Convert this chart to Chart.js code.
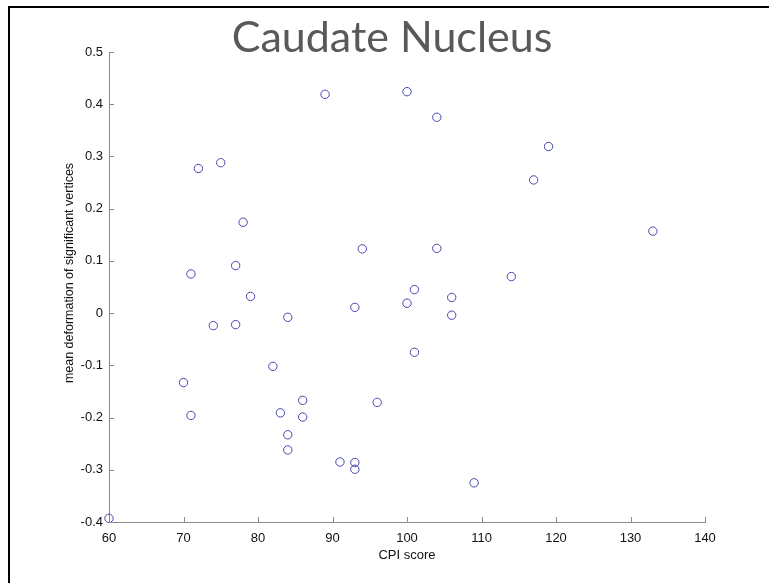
<!DOCTYPE html>
<html>
<head>
<meta charset="utf-8">
<title>Caudate Nucleus</title>
<script src="https://cdn.jsdelivr.net/npm/chart.js@4.4.1/dist/chart.umd.min.js"></script>
<style>
    html, body { margin: 0; padding: 0; background: #fff; }
    #chart { display: block; }
</style>
</head>
<body>
<canvas id="chart" width="769" height="583"></canvas>
<script>
// Data
const cpiScore = [60, 70, 71, 71, 72, 74, 75, 77, 77, 78, 79, 82, 83, 84, 84, 84, 86, 86, 89, 91,
    93, 93, 93, 94, 96, 100, 100, 101, 101, 104, 104, 106, 106, 109, 114, 117, 119, 133];
const meanDeformation = [-0.393, -0.133, -0.196, 0.075, 0.277, -0.024, 0.288, 0.091, -0.022, 0.174,
    0.032, -0.102, -0.191, -0.008, -0.233, -0.262, -0.167, -0.199, 0.419, -0.285,
    0.011, -0.286, -0.299, 0.123, -0.171, 0.424, 0.019, 0.045, -0.075, 0.375,
    0.124, 0.030, -0.004, -0.325, 0.070, 0.255, 0.319, 0.157];
const xTicks = [60, 70, 80, 90, 100, 110, 120, 130, 140];
const yTicks = [-0.4, -0.3, -0.2, -0.1, 0, 0.1, 0.2, 0.3, 0.4, 0.5];

const chartTitle = 'Caudate Nucleus';
const xTitle = 'CPI score';
const yTitle = 'mean deformation of significant vertices';

const axisColor = '#8a8a8a';
const tickFont = { family: '"Liberation Sans", Arial, sans-serif', size: 13 };

// Frame, inward tick marks, title and axis titles
const decorations = {
    id: 'decorations',
    beforeDraw(chart) {
        const ctx = chart.ctx;
        ctx.save();
        ctx.fillStyle = '#000';
        ctx.fillRect(8, 6, 2, chart.height - 6);
        ctx.fillRect(8, 6, chart.width - 8, 2);
        ctx.restore();
    },
    afterDraw(chart) {
        const ctx = chart.ctx;
        const area = chart.chartArea;
        const xs = chart.scales.x;
        const ys = chart.scales.y;
        ctx.save();

        // tick marks pointing into the plot
        ctx.strokeStyle = axisColor;
        ctx.lineWidth = 1;
        ctx.beginPath();
        xTicks.forEach(v => {
            const px = Math.round(xs.getPixelForValue(v)) + 0.5;
            ctx.moveTo(px, area.bottom);
            ctx.lineTo(px, area.bottom - 5);
        });
        yTicks.forEach(v => {
            const py = Math.round(ys.getPixelForValue(v)) + 0.5;
            ctx.moveTo(area.left, py);
            ctx.lineTo(area.left + 5, py);
        });
        ctx.stroke();

        // title (Calibri-like, Lato is the closest installed face)
        ctx.fillStyle = '#595959';
        ctx.font = '43px Lato, "Open Sans", sans-serif';
        ctx.textAlign = 'center';
        ctx.textBaseline = 'alphabetic';
        const w = ctx.measureText(chartTitle).width;
        const target = 315;
        ctx.save();
        ctx.translate(392, 52);
        if (Math.abs(w - target) > target * 0.03) ctx.scale(target / w, 1);
        ctx.fillText(chartTitle, 0, 0);
        ctx.restore();

        // axis titles
        ctx.fillStyle = '#111';
        ctx.font = '13px "Liberation Sans", Arial, sans-serif';
        ctx.textAlign = 'center';
        ctx.textBaseline = 'middle';
        ctx.fillText(xTitle, (area.left + area.right) / 2, 555);

        ctx.font = '12.5px "Liberation Sans", Arial, sans-serif';
        ctx.translate(70, 273);
        ctx.rotate(-Math.PI / 2);
        ctx.fillText(yTitle, 0, 0);
        ctx.restore();
    }
};

const chart = new Chart(document.getElementById('chart'), {
    type: 'scatter',
    data: {
        datasets: [{
            label: 'Caudate Nucleus',
            data: cpiScore.map((x, i) => ({ x: x, y: meanDeformation[i] })),
            pointStyle: 'circle',
            pointRadius: 4.2,
            pointHoverRadius: 4.2,
            pointBorderWidth: 1,
            borderColor: 'rgb(70, 70, 175)',
            backgroundColor: 'rgba(0, 0, 0, 0)',
            clip: false
        }]
    },
    options: {
        responsive: false,
        animation: false,
        devicePixelRatio: 1,
        layout: {
            padding: { top: 52, right: 64, left: 0, bottom: 0 }
        },
        plugins: {
            legend: { display: false },
            tooltip: { enabled: false },
            title: { display: false }
        },
        scales: {
            x: {
                type: 'linear',
                min: 60,
                max: 140,
                afterBuildTicks: s => { s.ticks = xTicks.map(v => ({ value: v })); },
                afterFit: s => { s.height = 61; },
                grid: { display: false, drawTicks: false },
                border: { display: true, color: axisColor, width: 1 },
                ticks: {
                    color: '#111',
                    font: tickFont,
                    padding: 9,
                    maxRotation: 0,
                    callback: v => String(v)
                }
            },
            y: {
                type: 'linear',
                min: -0.4,
                max: 0.5,
                afterBuildTicks: s => { s.ticks = yTicks.map(v => ({ value: v })); },
                afterFit: s => { s.width = 109; },
                grid: { display: false, drawTicks: false },
                border: { display: true, color: axisColor, width: 1 },
                ticks: {
                    color: '#111',
                    font: tickFont,
                    padding: 6,
                    callback: v => String(+v.toFixed(1))
                }
            }
        }
    },
    plugins: [decorations]
});
</script>
</body>
</html>
